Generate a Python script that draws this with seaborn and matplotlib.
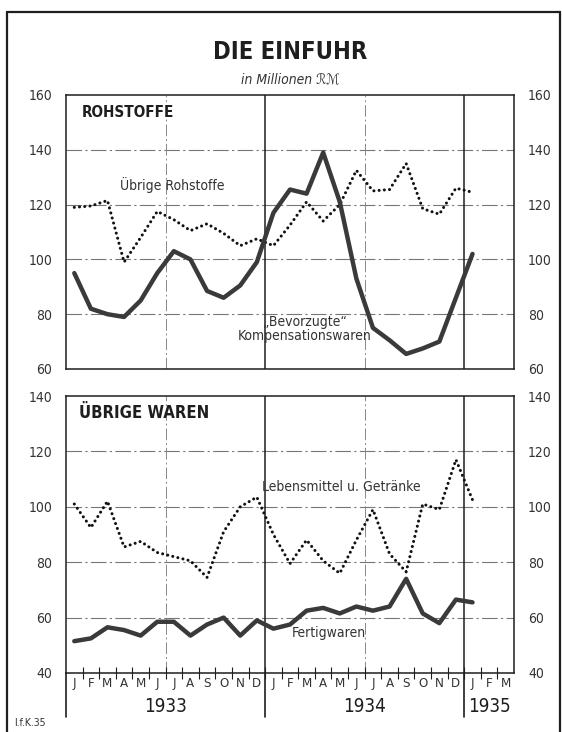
import numpy as np
import pandas as pd
import matplotlib
matplotlib.use("Agg")
import matplotlib.pyplot as plt
import matplotlib.transforms as mtrans
from matplotlib.lines import Line2D
import seaborn as sns

sns.set_theme(style="white")
plt.rcParams["font.family"] = ["DejaVu Sans"]
plt.rcParams["font.stretch"] = "condensed"

# ── Data (Mill. RM, Jan 1933 – Jan 1935) ──────────────────
month_labels = list("JFMAMJJASOND") * 2 + list("JFM")
year_labels  = ["1933", "1934", "1935"]
year_starts  = [0, 12, 24]
year_ends    = [12, 24, 27]

bevorzugte = [95, 82, 80, 79, 85, 95, 103, 100, 88.5, 86, 90.5, 99,
              117, 125.5, 124, 139, 121, 93, 75, 70.5, 65.5, 67.5, 70, 86,
              102]
uebrige_rohstoffe = [119, 119.5, 121.5, 99, 108, 117.5, 114.5, 110.5, 113, 109.5, 105, 107.5,
                     105, 112.5, 121, 114, 120, 132.5, 125, 125.5, 135, 118.5, 116.5, 126,
                     124.5]
lebensmittel = [101, 92.5, 102, 85.5, 87.5, 83.5, 82, 80.5, 74.5, 91, 100, 103.5,
                90, 79.5, 88, 80.5, 76, 88, 99, 83, 76.5, 101, 99, 117,
                102.5]
fertigwaren = [51.5, 52.5, 56.5, 55.5, 53.5, 58.5, 58.5, 53.5, 57.5, 60, 53.5, 59,
               56, 57.5, 62.5, 63.5, 61.5, 64, 62.5, 64, 74, 61.5, 58, 66.5,
               65.5]

df = pd.DataFrame({
    "monat": np.arange(len(bevorzugte)) + 0.5,   # centre of each month
    "bevorzugte": bevorzugte,
    "uebrige": uebrige_rohstoffe,
    "lebensmittel": lebensmittel,
    "fertigwaren": fertigwaren,
})

W, H = 562, 732
fig = plt.figure(figsize=(W / 100, H / 100), dpi=100)
ax1 = fig.add_axes([66 / W, 1 - 369 / H, 448 / W, 274 / H])
ax2 = fig.add_axes([66 / W, 1 - 673 / H, 448 / W, 277 / H])

ink = "#1e1e1e"
solid_kw = dict(color="#3a3a3a", lw=3.2, solid_joinstyle="round", solid_capstyle="round")
dot_kw = dict(color="#111111", lw=2.2, linestyle=(0, (0.01, 1.7)), dash_capstyle="round")

sns.lineplot(data=df, x="monat", y="uebrige", ax=ax1, **dot_kw)
sns.lineplot(data=df, x="monat", y="bevorzugte", ax=ax1, **solid_kw)
sns.lineplot(data=df, x="monat", y="lebensmittel", ax=ax2, **dot_kw)
sns.lineplot(data=df, x="monat", y="fertigwaren", ax=ax2, **solid_kw)

for ax, lo in ((ax1, 60), (ax2, 40)):
    ax.set_xlim(0, 27)
    ax.set_ylim(lo, lo + 100)
    ax.set_yticks(range(lo, lo + 101, 20))
    ax.set_xlabel(""); ax.set_ylabel("")
    ax.tick_params(axis="y", left=False, right=False, labelleft=True,
                   labelright=True, labelsize=10, pad=4, colors="#333")
    for s in ax.spines.values():
        s.set_color(ink); s.set_linewidth(1.1)
    for yv in range(lo + 20, lo + 100, 20):
        ax.axhline(yv, color="#777", lw=0.8, ls=(0, (14, 3, 2, 3)), zorder=0)
    for xv in (6, 18):
        ax.axvline(xv, color="#888", lw=0.7, ls=(0, (12, 3, 2, 3)), zorder=0)
    for xv in (12, 24):
        ax.axvline(xv, color=ink, lw=1.1, zorder=0)

ax1.set_xticks([])

# month labels + month boundary ticks
ax2.set_xticks(df["monat"].tolist() + [25.5, 26.5])
ax2.set_xticklabels(month_labels)
ax2.set_xticks(range(1, 27), minor=True)
ax2.tick_params(axis="x", which="major", length=0, pad=3, labelsize=9.5, colors="#333")
ax2.tick_params(axis="x", which="minor", bottom=True, length=9, width=0.8,
                direction="inout", color=ink)

trans = mtrans.blended_transform_factory(ax2.transData, ax2.transAxes)
for lab, a, b in zip(year_labels, year_starts, year_ends):
    ax2.axvline(a, ymin=-0.16, ymax=0, color=ink, lw=1.2, clip_on=False)
    ax2.text((a + b) / 2, -0.122, lab, transform=trans, ha="center", va="center",
             fontsize=13.5, color=ink)

# panel titles and series labels
ax1.text(0.035, 0.935, "ROHSTOFFE", transform=ax1.transAxes, fontsize=11,
         fontweight="bold", color=ink, va="center")
ax2.text(0.03, 0.94, "ÜBRIGE WAREN", transform=ax2.transAxes, fontsize=12,
         fontweight="bold", color=ink, va="center")
lab_kw = dict(fontsize=10, color="#333", va="center")
ax1.text(6.4, 127.3, "Übrige Rohstoffe", ha="center", **lab_kw)
ax1.text(14.4, 74.5, "„Bevorzugte“\nKompensationswaren", ha="center",
         linespacing=1.0, **lab_kw)
ax2.text(11.8, 107.1, "Lebensmittel u. Getränke", ha="left", **lab_kw)
ax2.text(13.6, 54.4, "Fertigwaren", ha="left", **lab_kw)

# title block
fig.text(290 / W, 1 - 52 / H, "DIE EINFUHR", ha="center", va="center",
         fontsize=17, fontweight="bold", color=ink)
fig.text(290 / W, 1 - 79 / H, "in Millionen ℛℳ", ha="center", va="center",
         fontsize=10, style="italic", color="#333")
fig.text(14 / W, 1 - 723 / H, "I.f.K.35", ha="left", va="center",
         fontsize=7.5, color="#333")

# outer frame
for xs, ys in (([7, 7], [0, 720]), ([7, 560], [720, 720]), ([560, 560], [0, 720])):
    fig.add_artist(Line2D([x / W for x in xs], [y / H for y in ys],
                          color=ink, lw=1.6))

fig.savefig("out.png", dpi=100)
